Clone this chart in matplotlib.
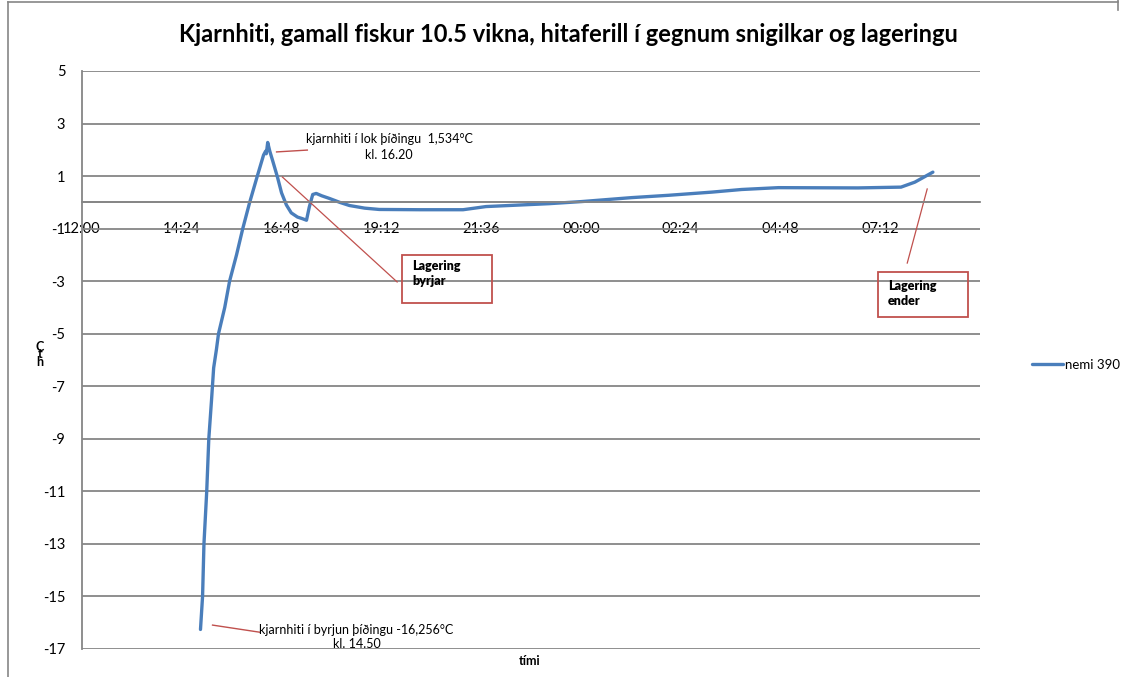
import matplotlib.pyplot as plt
from matplotlib.lines import Line2D
from matplotlib.patches import Rectangle

plt.rcParams['font.family'] = ['Lato', 'DejaVu Sans']
plt.rcParams['axes.unicode_minus'] = False

# readings of sensor "nemi 390" (clock time, core temperature in C)
times = ["14:51", "14:54", "14:56", "15:00", "15:03", "15:07", "15:10", "15:14",
         "15:17", "15:26", "15:33", "15:43", "15:52", "16:02", "16:13", "16:22",
         "16:25", "16:26", "16:28", "16:31", "16:35", "16:42", "16:48", "16:55",
         "17:02", "17:11", "17:18", "17:24", "17:28", "17:33", "17:38", "17:46",
         "17:57", "18:12", "18:26", "18:48", "19:09", "20:07", "21:10", "21:43",
         "23:14", "00:01", "01:13", "02:07", "03:09", "03:52", "04:45", "06:40",
         "07:42", "08:02", "08:28"]
temps = [-16.256, -15.0, -13.0, -11.0, -9.0, -7.5, -6.3, -5.6,
         -5.0, -4.0, -3.0, -2.0, -1.0, 0.0, 1.0, 1.8,
         1.95, 1.85, 2.28, 1.95, 1.6, 0.97, 0.36, -0.1,
         -0.4, -0.56, -0.62, -0.68, -0.18, 0.3, 0.34, 0.25,
         0.15, 0.0, -0.12, -0.22, -0.27, -0.28, -0.28, -0.16,
         -0.05, 0.03, 0.18, 0.27, 0.39, 0.49, 0.56, 0.55,
         0.58, 0.77, 1.15]

tick_labels = ["12:00", "14:24", "16:48", "19:12", "21:36", "00:00", "02:24", "04:48", "07:12"]
y_ticks = list(range(-17, 6, 2))

title = "Kjarnhiti, gamall fiskur 10.5 vikna, hitaferill í gegnum snigilkar og lageringu"
series_name = "nemi 390"


def hours_after_noon(t):
    h, m = t.split(":")
    val = int(h) + int(m) / 60.0 - 12
    if val < 0:
        val += 24
    return val


x = [hours_after_noon(t) for t in times]
tick_pos = [hours_after_noon(t) for t in tick_labels]

blue = "#4A7EBB"
red = "#C0504D"
grid = "#868686"

fig = plt.figure(figsize=(11.23, 6.77), dpi=100)
ax = fig.add_axes([82 / 1123, 1 - 649 / 677, 898 / 1123, 578 / 677])

ax.plot(x, temps, color=blue, lw=2.4, solid_capstyle='round', solid_joinstyle='round',
        label=series_name)

ax.set_xlim(0, 21.6)
ax.set_ylim(-17, 5)
ax.set_yticks(y_ticks)
ax.set_xticks(tick_pos)
ax.set_xticklabels(tick_labels)
ax.yaxis.grid(True, color=grid, lw=1.3)
ax.set_axisbelow(True)
ax.axhline(0, color=grid, lw=1.3, zorder=0)

for s in ['top', 'right']:
    ax.spines[s].set_visible(False)
ax.spines['left'].set_color(grid)
ax.spines['left'].set_linewidth(1.3)
ax.spines['bottom'].set_position(('data', 0))
ax.spines['bottom'].set_color(grid)
ax.spines['bottom'].set_linewidth(1.3)
ax.tick_params(axis='x', length=0, pad=14, labelsize=10.5)
ax.tick_params(axis='y', length=0, pad=12, labelsize=10.5)

fig.text(0.506, 1 - 35 / 677, title, ha='center', va='center', fontsize=17, fontweight='bold')
fig.text(530 / 1123, 1 - 661 / 677, "tími", ha='center', va='center', fontsize=9, fontweight='bold')
fig.text(40 / 1123, 1 - 354 / 677, "C\nt\nh", ha='center', va='center', fontsize=9,
         fontweight='bold', linespacing=0.55)

# annotations
ax.plot([4.68, 5.42], [1.92, 1.99], color=red, lw=1)
ax.text(7.39, 2.1, "kjarnhiti í lok þíðingu  1,534°C\nkl. 16.20", ha='center', va='center',
        fontsize=9, linespacing=1.45)

ax.plot([3.14, 4.27], [-16.09, -16.36], color=red, lw=1)
ax.text(6.6, -16.55, "kjarnhiti í byrjun þíðingu -16,256°C\nkl. 14.50", ha='center', va='center',
        fontsize=9, linespacing=1.25)

ax.plot([4.82, 7.58], [0.965, -3.03], color=red, lw=0.9)
ax.add_patch(Rectangle((7.70, -3.83), 2.16, 1.83, fill=False, edgecolor=red, lw=1.3, clip_on=False))
ax.text(7.94, -2.72, "Lagering\nbyrjar", ha='left', va='center', fontsize=9,
        fontweight='heavy', linespacing=1.3)

ax.plot([20.33, 19.85], [0.51, -2.31], color=red, lw=0.9)
ax.add_patch(Rectangle((19.15, -4.36), 2.16, 1.71, fill=False, edgecolor=red, lw=1.3, clip_on=False))
ax.text(19.39, -3.47, "Lagering\nender", ha='left', va='center', fontsize=9,
        fontweight='heavy', linespacing=1.3)

fig.legend(loc='center left', bbox_to_anchor=(1025 / 1123, 1 - 365 / 677), frameon=False,
           fontsize=9.5, handlelength=2.4, handletextpad=0.1, borderpad=0)

# chart area border
fig.add_artist(Line2D([7.5 / 1123, 7.5 / 1123], [0, 1 - 1.5 / 677], color=grid, lw=1.2))
fig.add_artist(Line2D([7.5 / 1123, 1118 / 1123], [1 - 1.5 / 677, 1 - 1.5 / 677], color=grid, lw=1.2))
fig.add_artist(Line2D([1118 / 1123, 1118 / 1123], [1 - 10 / 677, 1], color=grid, lw=1.2))

fig.savefig("out.png", dpi=100)
